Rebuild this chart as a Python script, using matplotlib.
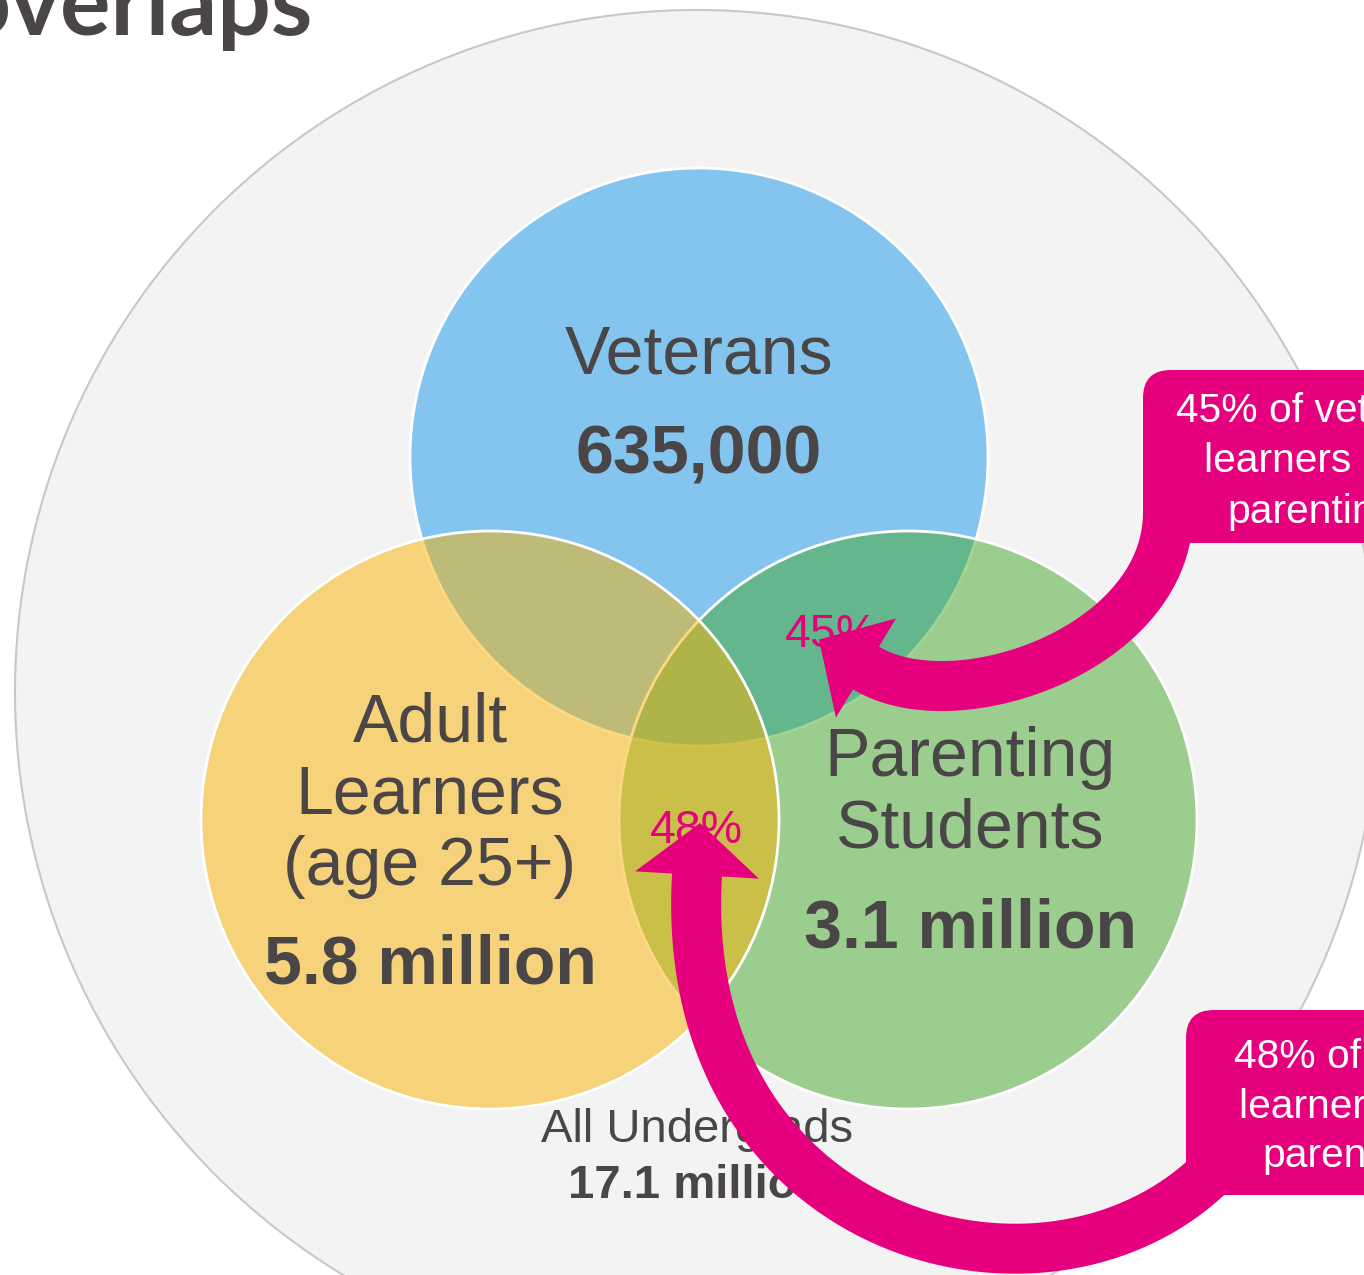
import numpy as np
import matplotlib
matplotlib.use('Agg')
from matplotlib import pyplot as plt
from matplotlib.patches import Circle, Polygon, FancyBboxPatch
from matplotlib.colors import to_rgba

# group labels, sizes and overlaps
groups = ['Veterans', 'Adult\nLearners\n(age 25+)', 'Parenting\nStudents']
counts = ['635,000', '5.8 million', '3.1 million']
total_label = 'All Undergrads'
total_count = '17.1 million'
overlap_pct = [45, 48]   # veterans -> parenting, adult -> parenting
callouts = ['45% of veteran\nlearners are\nparenting',
            '48% of adult\nlearners are\nparenting']

TXT = '#4A4546'
PINK = '#E6007E'
plt.rcParams['font.family'] = ['Liberation Sans', 'DejaVu Sans']

fig = plt.figure(figsize=(13.64, 12.75), dpi=100)
ax = fig.add_axes([0, 0, 1, 1])
ax.set_xlim(0, 1364)
ax.set_ylim(1275, 0)
ax.axis('off')

# outer circle for all undergrads
ax.add_patch(Circle((697, 692), 682, fc='#F3F3F3', ec='#C8C8C8', lw=1.5, zorder=1))

# venn circles: veterans, parenting, adult (drawn in that order)
centers = {'vet': (699, 457), 'par': (908, 820), 'adu': (490, 820)}
fills = {'vet': '#1799ED', 'par': '#45AB2B', 'adu': '#F9B305'}
for k in ['vet', 'par', 'adu']:
    ax.add_patch(Circle(centers[k], 289, fc=to_rgba(fills[k], 0.5),
                        ec='white', lw=2, zorder=2))

# group labels
label_pos = [(699, 373), (430, 741), (970, 776)]
count_y = [473, 984, 948]
step = 72
for name, cnt, (x, y0), cy in zip(groups, counts, label_pos, count_y):
    for i, line in enumerate(name.split('\n')):
        ax.text(x, y0 + i * step, line, ha='center', va='baseline',
                fontsize=49, color=TXT, zorder=3)
    ax.text(x, cy, cnt, ha='center', va='baseline', fontsize=49,
            fontweight='bold', color=TXT, zorder=3)

ax.text(697, 1142, total_label, ha='center', va='baseline', fontsize=34,
        color=TXT, zorder=3)
ax.text(697, 1198, total_count, ha='center', va='baseline', fontsize=34,
        fontweight='bold', color=TXT, zorder=3)

ax.text(831, 647, '%d%%' % overlap_pct[0], ha='center', va='baseline',
        fontsize=33.5, color=PINK, zorder=3)
ax.text(696, 843, '%d%%' % overlap_pct[1], ha='center', va='baseline',
        fontsize=33.5, color=PINK, zorder=3)


def bezier(ctrl, n=120):
    t = np.linspace(0, 1, n)[:, None]
    p0, p1, p2, p3 = [np.array(q, float) for q in ctrl]
    pts = (1-t)**3*p0 + 3*t*(1-t)**2*p1 + 3*t**2*(1-t)*p2 + t**3*p3
    d = 3*(1-t)**2*(p1-p0) + 6*t*(1-t)*(p2-p1) + 3*t**2*(p3-p2)
    return pts, d


def curved_arrow(ctrl, width, head_w, head_l):
    pts, d = bezier(ctrl)
    u = d / np.linalg.norm(d, axis=1)[:, None]
    nrm = np.column_stack([-u[:, 1], u[:, 0]])
    left = pts + nrm * width / 2
    right = pts - nrm * width / 2
    end, ue, ne = pts[-1], u[-1], nrm[-1]
    head = [end + ne * head_w, end + ue * head_l, end - ne * head_w]
    poly = np.vstack([left, head, right[::-1]])
    ax.add_patch(Polygon(poly, closed=True, fc=PINK, ec='none', zorder=5))


curved_arrow([(1168, 515), (1165, 650), (955, 722), (866, 668)], 50, 58, 55)
curved_arrow([(1232, 1150), (1075, 1345), (675, 1250), (697, 875)], 50, 62, 52)

# callout boxes
for (bx, by, bh), txt, cx, ys in [((1143, 370, 173), callouts[0], 1313, [422, 472, 523]),
                                  ((1186, 1010, 185), callouts[1], 1348, [1068, 1118, 1167])]:
    ax.add_patch(FancyBboxPatch((bx, by), 400, bh,
                                boxstyle='round,pad=0,rounding_size=28',
                                fc=PINK, ec='none', zorder=5))
    for line, y in zip(txt.split('\n'), ys):
        ax.text(cx, y, line, ha='center', va='baseline', fontsize=29.3,
                color='white', zorder=6)

ax.text(313, 35, 'overlaps', ha='right', va='baseline', fontsize=68,
        fontweight='bold', family=['Lato', 'DejaVu Sans'], color=TXT, zorder=6)

fig.savefig('out.png', dpi=100)
